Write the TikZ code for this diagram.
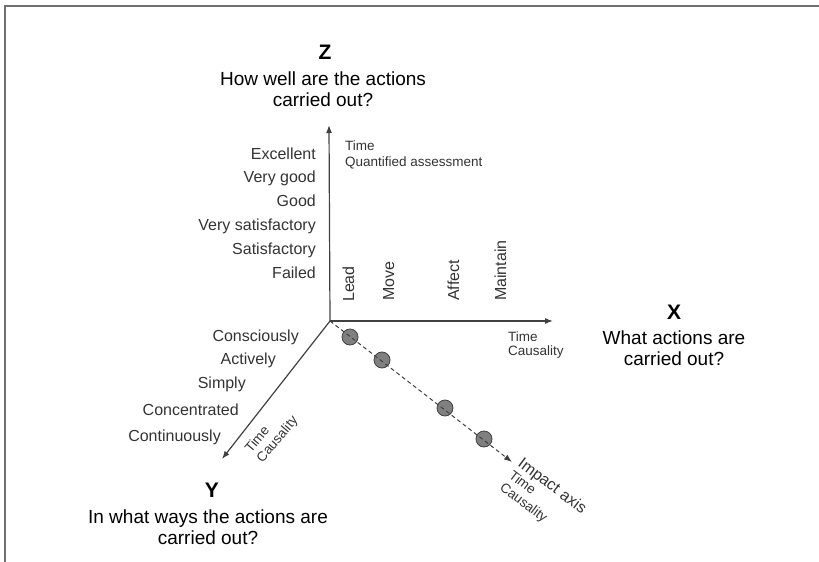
\documentclass[tikz,border=0pt]{standalone}
\usepackage{fontspec}
\setmainfont{Liberation Sans}
\usetikzlibrary{arrows.meta,positioning}
\definecolor{axisgray}{HTML}{404040}
\definecolor{labelgray}{HTML}{333333}
\definecolor{dotgray}{HTML}{808080}
\definecolor{framegray}{HTML}{707070}
\tikzset{
axis_line/.style={draw=axisgray, line width=1.2pt, -{Latex[length=8pt,width=6pt]}},
impact_line/.style={draw=axisgray, line width=1pt, dash pattern=on 4pt off 3pt, -{Latex[length=8pt,width=6pt]}},
impact_dot/.style={circle, draw=axisgray, fill=dotgray, line width=0.8pt, minimum size=16pt, inner sep=0},
scale_label/.style={inner xsep=0, inner ysep=4.2pt, text height=11.5pt, text depth=3.5pt, text=labelgray, font=\fontsize{16}{19}\selectfont},
small_label/.style={inner sep=0, text=labelgray, font=\fontsize{13.5}{15}\selectfont},
head_letter/.style={inner sep=0, font=\fontsize{21}{24}\selectfont\bfseries},
head_text/.style={inner sep=0, align=center, font=\fontsize{19}{21}\selectfont},
frame_line/.style={draw=framegray, line width=1.8pt}
}

\begin{document}
\begin{tikzpicture}[x=1pt, y=-1pt]
    \useasboundingbox (0,0) rectangle (819,562);
    \draw[frame_line] (5,562) -- (5,6) -- (819,6);

    % axes
    \coordinate (origin) at (330,321);
    \coordinate (z_end) at (329,125);
    \coordinate (x_end) at (553,321);
    \coordinate (y_end) at (222,459);
    \coordinate (impact_end) at (512,462);
    \draw[axis_line] (origin) -- (z_end);
    \draw[axis_line] (origin) -- (x_end);
    \draw[axis_line] (origin) -- (y_end);

    \node[impact_dot] (dot_1) at (350,337) {};
    \node[impact_dot] (dot_2) at (382,360) {};
    \node[impact_dot] (dot_3) at (445,408) {};
    \node[impact_dot] (dot_4) at (484,439) {};
    \draw[impact_line] (origin) -- (impact_end);

    % headings
    \node[head_letter] (z_head) at (325,52) {Z};
    \node[head_text] (z_text) at (323,89) {How well are the actions\\carried out?};
    \node[head_letter] (x_head) at (674,312) {X};
    \node[head_text] (x_text) at (674,348) {What actions are\\carried out?};
    \node[head_letter] (y_head) at (212,490) {Y};
    \node[head_text] (y_text) at (208,527) {In what ways the actions are\\carried out?};

    % Z scale
    \node[scale_label, anchor=east] (z_1) at (316,155) {Excellent};
    \node[scale_label] (z_2) [below=0 of z_1.south east, anchor=north east] {Very good};
    \node[scale_label] (z_3) [below=0 of z_2.south east, anchor=north east] {Good};
    \node[scale_label] (z_4) [below=0 of z_3.south east, anchor=north east] {Very satisfactory};
    \node[scale_label] (z_5) [below=0 of z_4.south east, anchor=north east] {Satisfactory};
    \node[scale_label] (z_6) [below=0 of z_5.south east, anchor=north east] {Failed};
    \node[small_label, anchor=west] (z_time) at (345,146) {Time};
    \node[small_label, anchor=west] (z_assess) at (345,163) {Quantified assessment};

    % X scale
    \node[scale_label, rotate=90, anchor=west] (x_1) at (350,302) {Lead};
    \node[scale_label, rotate=90, anchor=west] (x_2) at (390,301) {Move};
    \node[scale_label, rotate=90, anchor=west] (x_3) at (455,301) {Affect};
    \node[scale_label, rotate=90, anchor=west] (x_4) at (502,301) {Maintain};
    \node[small_label, anchor=west] (x_time) at (508,337) {Time};
    \node[small_label, anchor=west] (x_cause) at (508,352) {Causality};

    % Y scale
    \node[scale_label, anchor=east] (y_1) at (299,337) {Consciously};
    \node[scale_label, anchor=east] (y_2) at (276,360) {Actively};
    \node[scale_label, anchor=east] (y_3) at (246,384) {Simply};
    \node[scale_label, anchor=east] (y_4) at (239,411) {Concentrated};
    \node[scale_label, anchor=east] (y_5) at (221,437) {Continuously};
    \node[small_label, align=left, rotate=50] (y_cause) at (272,435) {Time\\Causality};

    % impact axis
    \node[small_label, align=left, rotate=-37, anchor=north west] (impact_lbl) at (524,456)
        {{\fontsize{16}{17}\selectfont Impact axis}\\Time\\Causality};
\end{tikzpicture}
\end{document}
